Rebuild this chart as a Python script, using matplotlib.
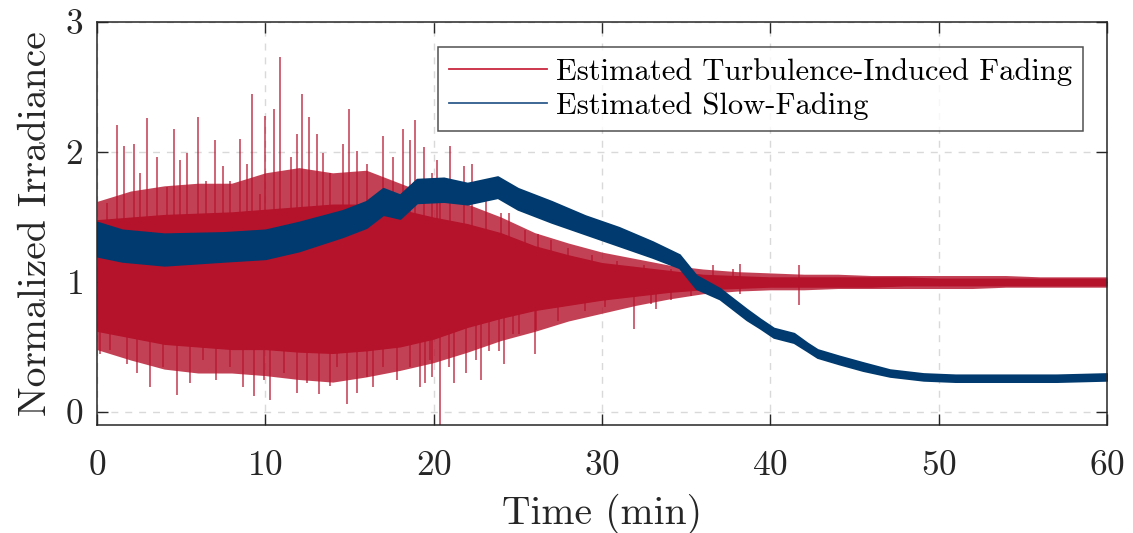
import numpy as np
import matplotlib
matplotlib.use("Agg")
import matplotlib.pyplot as plt
from matplotlib.lines import Line2D

# ---- data (time in min, normalized irradiance) ----
# turbulence-induced fading: envelopes of the dense red band
red_t = [0, 2, 4, 6, 8, 10, 12, 14, 16, 18, 20, 22, 24, 26, 28, 30,
         32, 34, 36, 38, 40, 42, 44, 46, 48, 50, 52, 54, 56, 58, 60]
red_core_hi = [1.48, 1.50, 1.52, 1.53, 1.54, 1.56, 1.58, 1.60, 1.60, 1.56, 1.50, 1.45, 1.38, 1.28, 1.21, 1.15,
               1.12, 1.09, 1.06, 1.05, 1.04, 1.04, 1.04, 1.04, 1.04, 1.03, 1.03, 1.03, 1.03, 1.03, 1.03]
red_core_lo = [0.62, 0.57, 0.52, 0.50, 0.48, 0.48, 0.46, 0.45, 0.47, 0.50, 0.56, 0.65, 0.72, 0.78, 0.82, 0.86,
               0.89, 0.92, 0.94, 0.95, 0.96, 0.96, 0.96, 0.96, 0.97, 0.97, 0.97, 0.97, 0.97, 0.97, 0.97]
red_outer_hi = [1.62, 1.70, 1.74, 1.76, 1.76, 1.84, 1.88, 1.84, 1.86, 1.76, 1.66, 1.60, 1.50, 1.38, 1.30, 1.23,
                1.18, 1.13, 1.10, 1.08, 1.07, 1.06, 1.06, 1.05, 1.05, 1.05, 1.05, 1.05, 1.04, 1.04, 1.04]
red_outer_lo = [0.48, 0.40, 0.33, 0.30, 0.30, 0.28, 0.25, 0.23, 0.27, 0.32, 0.38, 0.46, 0.55, 0.62, 0.70, 0.76,
                0.82, 0.87, 0.91, 0.93, 0.94, 0.94, 0.95, 0.95, 0.95, 0.95, 0.95, 0.96, 0.96, 0.96, 0.96]

# isolated spikes / hairs of the red trace (upper side)
spike_up_t = [0.6, 1.2, 1.6, 2.2, 2.55, 3.0, 3.55, 4.15, 4.6, 4.93, 5.33, 6.0, 6.5, 7.0, 7.5, 7.9,
              8.5, 8.9, 9.2, 9.7, 10.0, 10.5, 10.9, 11.5, 11.9, 12.2, 12.6, 13.05, 13.45, 13.85,
              14.6, 15.0, 15.45, 16.05, 17.0, 17.6, 18.2, 18.6, 18.9, 19.4, 19.9, 20.2, 20.4,
              21.0, 21.8, 22.3, 23.1, 24.0, 24.5, 25.4, 26.2, 27.0, 28.0, 29.4, 30.9, 32.5,
              34.1, 35.3, 36.6, 37.8, 38.2, 41.7]
spike_up_v = [1.61, 2.21, 2.05, 2.06, 1.84, 2.26, 1.96, 1.73, 2.18, 1.94, 1.99, 2.27, 1.78, 2.09, 1.89, 1.78,
              2.10, 1.91, 2.45, 1.68, 2.28, 2.33, 2.73, 1.96, 2.14, 2.45, 2.27, 2.14, 1.99, 1.84,
              2.06, 2.33, 2.01, 1.91, 2.12, 1.96, 2.18, 2.09, 2.25, 2.04, 1.84, 1.94, 1.78,
              2.05, 1.89, 1.91, 1.73, 1.53, 1.53, 1.40, 1.37, 1.32, 1.26, 1.21, 1.16, 1.13,
              1.10, 1.10, 1.13, 1.10, 1.14, 1.13]
# lower side
spike_dn_t = [0.2, 0.77, 1.76, 2.35, 3.15, 3.95, 4.75, 5.53, 6.3, 7.1, 7.9, 8.7, 9.3, 9.9, 10.3,
              11.1, 11.9, 12.5, 13.2, 13.85, 14.25, 14.85, 15.45, 16.05, 16.4, 17.0, 17.8, 18.6,
              19.2, 19.5, 19.8, 19.9, 20.4, 20.9, 21.2, 21.9, 22.5, 22.8, 23.3, 23.9, 24.2, 24.7,
              25.1, 26.0, 26.1, 27.4, 29.0, 30.2, 31.9, 32.9, 33.2, 34.1, 35.3, 38.2, 41.7]
spike_dn_v = [0.45, 0.48, 0.37, 0.30, 0.19, 0.35, 0.13, 0.22, 0.40, 0.25, 0.35, 0.19, 0.12, 0.25, 0.09,
              0.30, 0.15, 0.22, 0.14, 0.20, 0.35, 0.06, 0.15, 0.27, 0.19, 0.35, 0.25, 0.35,
              0.19, 0.22, 0.40, 0.27, -0.12, 0.35, 0.22, 0.30, 0.40, 0.25, 0.47, 0.47, 0.37, 0.60,
              0.60, 0.45, 0.63, 0.70, 0.78, 0.81, 0.64, 0.83, 0.79, 0.86, 0.89, 0.91, 0.82]

# slow fading: centre of the blue band and its half-thickness
blue_t = [0, 1.5, 4, 7.5, 10, 12, 14.6, 16, 17, 18, 19, 20.6, 22, 23.8, 25, 27, 29, 31, 33,
          34.6, 35.6, 37, 38.6, 39.4, 40.2, 41.4, 42.2, 42.8, 44.1, 45.5, 47.1, 49.1, 51, 54, 57, 60]
blue_mid = [1.33, 1.28, 1.25, 1.27, 1.29, 1.35, 1.45, 1.52, 1.62, 1.58, 1.70, 1.71, 1.68, 1.73, 1.64,
            1.54, 1.44, 1.35, 1.25, 1.16, 1.00, 0.91, 0.75, 0.68, 0.61, 0.57, 0.50, 0.45, 0.40, 0.35,
            0.30, 0.27, 0.26, 0.26, 0.26, 0.27]
blue_half = [0.13, 0.12, 0.12, 0.11, 0.11, 0.11, 0.10, 0.10, 0.10, 0.09, 0.09, 0.09, 0.08, 0.08, 0.08,
             0.08, 0.07, 0.07, 0.06, 0.05, 0.05, 0.04, 0.04, 0.035, 0.035, 0.035, 0.03, 0.03, 0.03, 0.03,
             0.025, 0.025, 0.025, 0.025, 0.025, 0.025]

labels = ["Estimated Turbulence-Induced Fading", "Estimated Slow-Fading"]

RED = "#b5122b"
BLUE = "#003a6e"
INK = "#262626"

plt.rcParams["font.family"] = "serif"
plt.rcParams["font.serif"] = ["cmr10"]
plt.rcParams["mathtext.fontset"] = "cm"
plt.rcParams["axes.formatter.use_mathtext"] = True

fig = plt.figure(figsize=(11.33, 5.33), dpi=100)
ax = fig.add_axes([0.0856, 0.2026, 0.8914, 0.7561])

# red trace: outer hairs, spikes, then the solid core
ax.fill_between(red_t, red_outer_lo, red_outer_hi, color=RED, alpha=0.8, linewidth=0, zorder=1)
ax.vlines(spike_up_t, 1.0, spike_up_v, color=RED, linewidth=1.3, alpha=0.7, zorder=1.5)
ax.vlines(spike_dn_t, 1.0, spike_dn_v, color=RED, linewidth=1.3, alpha=0.7, zorder=1.5)
ax.fill_between(red_t, red_core_lo, red_core_hi, color=RED, linewidth=0, zorder=2)

# blue trace on top
b_mid = np.array(blue_mid)
b_half = np.array(blue_half)
ax.fill_between(blue_t, b_mid - b_half, b_mid + b_half, color=BLUE, linewidth=1.5,
                edgecolor=BLUE, zorder=3)

ax.set_xlim(0, 60)
ax.set_ylim(-0.1, 3)
ax.set_xticks(range(0, 61, 10))
ax.set_yticks([0, 1, 2, 3])
ax.grid(True, color="#d9d9d9", linestyle=(0, (5, 5)), linewidth=1)
ax.set_axisbelow(True)
ax.tick_params(direction="in", length=8, width=1, top=True, right=True,
               labelsize=25.5, colors=INK)
ax.tick_params(axis="x", pad=18)
ax.tick_params(axis="y", pad=10)
for s in ax.spines.values():
    s.set_color(INK)
    s.set_linewidth(1.1)
    s.set_zorder(4)

ax.set_xlabel("Time (min)", fontsize=28.5, color=INK, labelpad=9)
ax.set_ylabel("Normalized Irradiance", fontsize=28.5, color=INK, labelpad=8)

handles = [Line2D([], [], color="#c8283f", linewidth=1.3),
           Line2D([], [], color="#2e5d8c", linewidth=1.3)]
leg = ax.legend(handles, labels, loc="upper right", bbox_to_anchor=(0.976, 0.937),
                fontsize=22, frameon=True, fancybox=False, handlelength=3.2,
                handletextpad=0.3, borderpad=0.35, labelspacing=0.2, borderaxespad=0)
leg.get_frame().set_edgecolor(INK)
leg.get_frame().set_linewidth(1.1)
leg.set_zorder(5)

fig.savefig("out.png", dpi=100)
